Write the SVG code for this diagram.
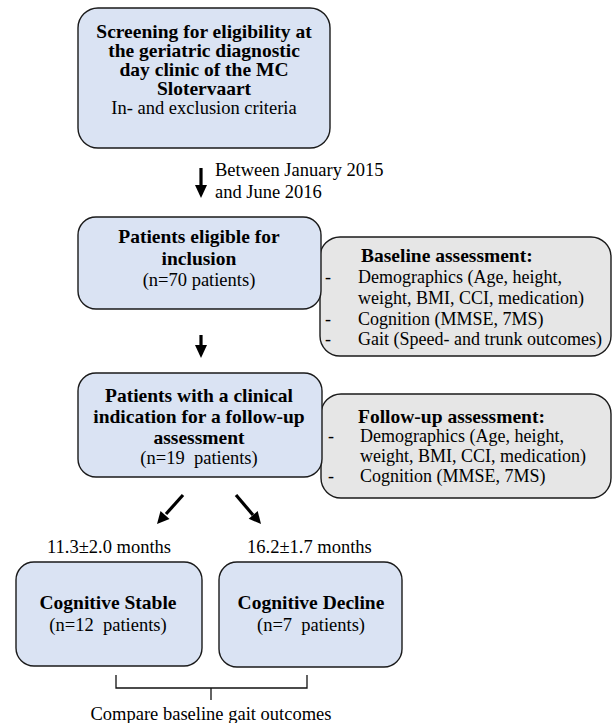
<svg xmlns="http://www.w3.org/2000/svg" width="613" height="723" viewBox="0 0 613 723">
<style>
.blue{fill:#dae3f3;stroke:#1a1a1a;stroke-width:1.4}
.gray{fill:#e6e6e6;stroke:#1a1a1a;stroke-width:1.4}
text{font-family:"Liberation Serif","Times New Roman",serif;font-size:18.5px;fill:#000;white-space:pre}
.b{font-weight:bold;font-size:19.5px}
.s{font-size:18px}
.c{text-anchor:middle}
.shaft{stroke:#000;stroke-width:3.2;fill:none}
.head{fill:#000}
</style>
<rect width="613" height="723" fill="#fff"/>
<g id="n1">
<rect class="blue" x="78" y="8" width="252" height="140" rx="20"/>
<text class="b c" x="204" y="38">Screening for eligibility at</text>
<text class="b c" x="204" y="57">the geriatric diagnostic</text>
<text class="b c" x="204" y="76">day clinic of the MC</text>
<text class="b c" x="204" y="95">Slotervaart</text>
<text class="c" x="204" y="114">In- and exclusion criteria</text>
</g>
<g id="baseline">
<rect class="gray" x="320" y="237" width="291" height="119" rx="20"/>
<text class="b" x="361" y="262">Baseline assessment:</text>
<text class="s" x="325" y="283">-</text>
<text class="s" x="358" y="283">Demographics (Age, height,</text>
<text class="s" x="358" y="304">weight, BMI, CCI, medication)</text>
<text class="s" x="325" y="325">-</text>
<text class="s" x="358" y="325">Cognition (MMSE, 7MS)</text>
<text class="s" x="325" y="345">-</text>
<text class="s" x="358" y="345">Gait (Speed- and trunk outcomes)</text>
</g>
<g id="n2">
<rect class="blue" x="78" y="217" width="243" height="92" rx="18"/>
<text class="b c" x="199" y="243">Patients eligible for</text>
<text class="b c" x="199" y="265">inclusion</text>
<text class="c" x="199" y="286">(n=70 patients)</text>
</g>
<g id="followup">
<rect class="gray" x="321" y="394" width="290" height="104" rx="20"/>
<text class="b" x="358" y="423">Follow-up assessment:</text>
<text class="s" x="328" y="442">-</text>
<text class="s" x="360" y="442">Demographics (Age, height,</text>
<text class="s" x="360" y="462">weight, BMI, CCI, medication)</text>
<text class="s" x="328" y="482">-</text>
<text class="s" x="360" y="482">Cognition (MMSE, 7MS)</text>
</g>
<g id="n3">
<rect class="blue" x="78" y="373" width="244" height="104" rx="18"/>
<text class="b c" x="199" y="402">Patients with a clinical</text>
<text class="b c" x="199" y="423">indication for a follow-up</text>
<text class="b c" x="199" y="444">assessment</text>
<text class="c" x="199" y="464">(n=19  patients)</text>
</g>
<g id="n4">
<rect class="blue" x="16" y="562" width="186" height="104" rx="18"/>
<text class="b c" x="108" y="609">Cognitive Stable</text>
<text class="c" x="108" y="631">(n=12  patients)</text>
</g>
<g id="n5">
<rect class="blue" x="219" y="562" width="183" height="105" rx="18"/>
<text class="b c" x="311" y="609">Cognitive Decline</text>
<text class="c" x="311" y="631">(n=7  patients)</text>
</g>
<g id="connectors">
<line class="shaft" x1="201" y1="168" x2="201" y2="187"/>
<polygon class="head" points="195,185 207,185 201,198"/>
<line class="shaft" x1="201" y1="335" x2="201" y2="347"/>
<polygon class="head" points="195,345 207,345 201,358"/>
<line class="shaft" x1="183" y1="495" x2="166" y2="514"/>
<polygon class="head" points="169.5,519.1 160.5,511.1 157,524"/>
<line class="shaft" x1="236" y1="495" x2="253" y2="515"/>
<polygon class="head" points="257.7,511 248.7,518.8 261,524"/>
<path d="M116,675 V688 H307 V675 M211,688 V700" fill="none" stroke="#111" stroke-width="1.3"/>
</g>
<g id="labels">
<text x="215" y="176">Between January 2015</text>
<text x="215" y="198">and June 2016</text>
<text x="47" y="553">11.3±2.0 months</text>
<text x="247" y="553">16.2±1.7 months</text>
<text class="c" x="211" y="720">Compare baseline gait outcomes</text>
</g>
</svg>
